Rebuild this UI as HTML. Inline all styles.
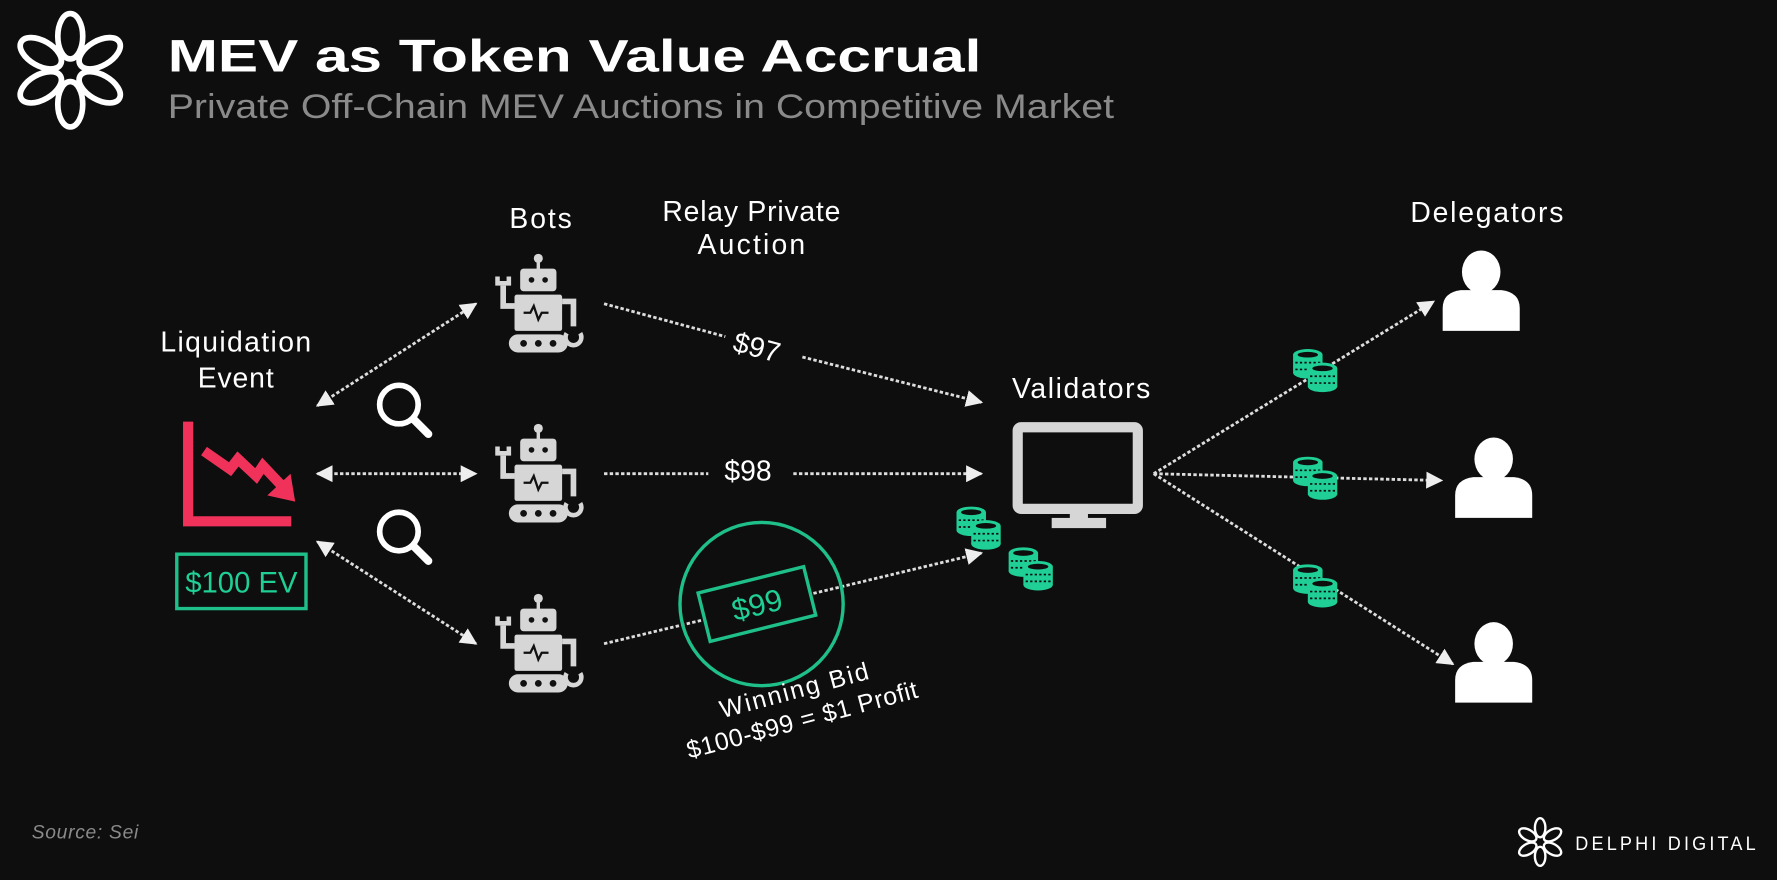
<!DOCTYPE html>
<html><head><meta charset="utf-8"><style>
html,body{margin:0;padding:0;background:#0e0e0f;}
svg{display:block}
text{font-family:"Liberation Sans",sans-serif;}
</style></head><body>
<svg width="1777" height="880" viewBox="0 0 1568 776.5" xmlns="http://www.w3.org/2000/svg">
<defs>
<marker id="ah" viewBox="0 0 10 10" refX="9" refY="5" markerWidth="6" markerHeight="6" orient="auto-start-reverse"><path d="M0,0L10,5L0,10z" fill="#eee"/></marker>
<g id="robot" fill="#d6d6d6">
  <circle cx="0" cy="-40" r="4"/><rect x="-1.5" y="-38" width="3" height="8"/>
  <rect x="-16" y="-31" width="32" height="20" rx="3"/>
  <circle cx="-6" cy="-21" r="2.5" fill="#111"/><circle cx="6" cy="-21" r="2.5" fill="#111"/>
  <rect x="-21" y="-8" width="42" height="32" rx="2"/>
  <path d="M-13,8 l6,0 l3,-6 l4,12 l3,-6 l6,0" stroke="#111" stroke-width="2" fill="none"/>
  <path d="M-21,2 h-10 v-18" stroke="#d6d6d6" stroke-width="5" fill="none"/>
  <path d="M-36,-24 v6 h10 v-6" stroke="#d6d6d6" stroke-width="4" fill="none"/>
  <path d="M21,-2 h10 v22" stroke="#d6d6d6" stroke-width="5" fill="none"/>
  <path d="M25,26 a7,7 0 1 0 12,0" stroke="#d6d6d6" stroke-width="4" fill="none"/>
  <rect x="-26" y="27" width="52" height="16" rx="8"/>
  <circle cx="-13" cy="35" r="3" fill="#111"/><circle cx="0" cy="35" r="3" fill="#111"/><circle cx="13" cy="35" r="3" fill="#111"/>
</g>
<g id="coin1">
  <rect x="-13" y="0" width="26" height="16" fill="#1fcf95"/>
  <ellipse cx="0" cy="16" rx="13" ry="5" fill="#1fcf95"/>
  <ellipse cx="0" cy="0" rx="13" ry="5" fill="#1fcf95"/>
  <ellipse cx="0" cy="0" rx="9" ry="2.5" fill="#0e0e0f"/>
  <line x1="-11" y1="7" x2="11" y2="7" stroke="#0e0e0f" stroke-width="1.5" stroke-dasharray="2 2"/>
  <line x1="-11" y1="13" x2="11" y2="13" stroke="#0e0e0f" stroke-width="1.5" stroke-dasharray="2 2"/>
</g>
<g id="coins"><use href="#coin1" x="0" y="0"/><use href="#coin1" x="13" y="12"/></g>
<g id="person" fill="#fff">
  <ellipse cx="0" cy="-20" rx="17" ry="19"/>
  <path d="M-34,32 v-20 q0,-14 16,-16 h36 q16,2 16,16 v20z"/>
</g>
<g id="mag"><circle cx="-4" cy="-4" r="17" fill="none" stroke="#fff" stroke-width="5"/><line x1="9" y1="9" x2="22" y2="22" stroke="#fff" stroke-width="7" stroke-linecap="round"/></g>
<ellipse id="loop" cx="0" cy="-30" rx="11" ry="20" fill="none" stroke="#fff" stroke-width="5"/>
<ellipse id="loops" cx="0" cy="-7" rx="3" ry="6" fill="none" stroke="#fff" stroke-width="1.5"/>
</defs>

<!-- logo -->
<g transform="translate(62,62)">
  <use href="#loop" transform="rotate(0)"/><use href="#loop" transform="rotate(60)"/><use href="#loop" transform="rotate(120)"/>
  <use href="#loop" transform="rotate(180)"/><use href="#loop" transform="rotate(240)"/><use href="#loop" transform="rotate(300)"/>
</g>
<text x="148" y="63" font-size="40" font-weight="bold" fill="#fff" textLength="718" lengthAdjust="spacingAndGlyphs">MEV as Token Value Accrual</text>
<text x="148" y="104" font-size="30" fill="#8a8a8a" textLength="835" lengthAdjust="spacingAndGlyphs">Private Off-Chain MEV Auctions in Competitive Market</text>

<g fill="#fff" font-size="25" text-anchor="middle" lengthAdjust="spacingAndGlyphs">
<text x="477" y="201" textLength="55">Bots</text>
<text x="663" y="195" textLength="157">Relay Private</text>
<text x="663" y="224" textLength="95">Auction</text>
<text x="1312" y="196" textLength="135">Delegators</text>
<text x="208" y="310" textLength="133">Liquidation</text>
<text x="208" y="342" textLength="67">Event</text>
<text x="954" y="351" textLength="122">Validators</text>
</g>

<!-- chart -->
<g stroke="#f0325a" stroke-width="9" fill="none">
<path d="M166,372 V460 H257"/>
<path d="M180,398 L203,414 L210,405 L226,420 L232,411 L248,428"/>
</g>
<path d="M240,436 L258,440 L255,422 z" fill="#f0325a" stroke="#f0325a" stroke-width="4"/>
<rect x="156" y="489" width="114" height="48" fill="none" stroke="#1fbf8a" stroke-width="3"/>
<text x="213" y="523" font-size="26" fill="#1fcf95" text-anchor="middle" textLength="99" lengthAdjust="spacingAndGlyphs">$100 EV</text>

<use href="#mag" x="356" y="361"/>
<use href="#mag" x="356" y="473"/>

<!-- arrows -->
<g stroke="#ddd" stroke-width="2.5" stroke-dasharray="3 2" fill="none">
<line x1="280" y1="358" x2="420" y2="268" marker-start="url(#ah)" marker-end="url(#ah)"/>
<line x1="280" y1="418" x2="420" y2="418" marker-start="url(#ah)" marker-end="url(#ah)"/>
<line x1="280" y1="478" x2="420" y2="568" marker-start="url(#ah)" marker-end="url(#ah)"/>
<line x1="533" y1="268" x2="640" y2="297"/>
<line x1="708" y1="315" x2="866" y2="355" marker-end="url(#ah)"/>
<line x1="533" y1="418" x2="625" y2="418"/>
<line x1="700" y1="418" x2="866" y2="418" marker-end="url(#ah)"/>
<line x1="533" y1="568" x2="866" y2="488" marker-end="url(#ah)"/>
<line x1="1018" y1="418" x2="1265" y2="266" marker-end="url(#ah)"/>
<line x1="1018" y1="418" x2="1272" y2="424" marker-end="url(#ah)"/>
<line x1="1018" y1="418" x2="1282" y2="586" marker-end="url(#ah)"/>
</g>

<use href="#robot" x="475" y="268"/>
<use href="#robot" x="475" y="418"/>
<use href="#robot" x="475" y="568"/>

<text x="668" y="315" font-size="25" fill="#fff" text-anchor="middle" transform="rotate(15 668 306)">$97</text>
<text x="660" y="424" font-size="25" fill="#fff" text-anchor="middle">$98</text>

<circle cx="672" cy="533" r="72" fill="none" stroke="#1fbf8a" stroke-width="3"/>
<g transform="rotate(-14 664 534)">
<rect x="620" y="512" width="96" height="44" fill="#0e0e0f" stroke="#1fbf8a" stroke-width="3"/>
<text x="668" y="544" font-size="27" fill="#1fcf95" text-anchor="middle">$99</text>
</g>
<g transform="rotate(-15 705 625)" fill="#fff" font-size="22" text-anchor="middle" lengthAdjust="spacingAndGlyphs">
<text x="705" y="616" textLength="135">Winning Bid</text>
<text x="705" y="643" textLength="210">$100-$99 = $1 Profit</text>
</g>

<!-- monitor -->
<rect x="898" y="377" width="106" height="72" rx="3" fill="none" stroke="#d6d6d6" stroke-width="9"/>
<rect x="944" y="449" width="16" height="10" fill="#d6d6d6"/>
<rect x="928" y="457" width="48" height="9" fill="#d6d6d6"/>

<use href="#coins" x="857" y="452"/>
<use href="#coins" x="903" y="488"/>
<use href="#coins" x="1154" y="313"/>
<use href="#coins" x="1154" y="408"/>
<use href="#coins" x="1154" y="503"/>

<use href="#person" x="1307" y="260"/>
<use href="#person" x="1318" y="425"/>
<use href="#person" x="1318" y="588"/>

<text x="28" y="740" font-size="17" font-style="italic" fill="#8a8a8a" textLength="94">Source: Sei</text>
<g transform="translate(1359,743) scale(0.42)">
  <use href="#loop" transform="rotate(0)"/><use href="#loop" transform="rotate(60)"/><use href="#loop" transform="rotate(120)"/>
  <use href="#loop" transform="rotate(180)"/><use href="#loop" transform="rotate(240)"/><use href="#loop" transform="rotate(300)"/>
</g>
<text x="1390" y="750" font-size="17" fill="#fff" letter-spacing="3" textLength="162" lengthAdjust="spacingAndGlyphs">DELPHI DIGITAL</text>
</svg>
</body></html>
